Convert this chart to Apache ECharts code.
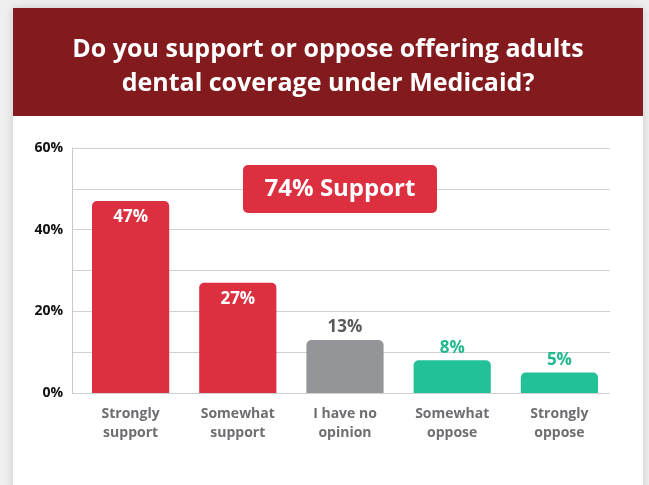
<!DOCTYPE html>
<html>
<head>
<meta charset="utf-8">
<script src="https://cdn.jsdelivr.net/npm/echarts@6/dist/echarts.min.js"></script>
<style>
  html, body { margin: 0; padding: 0; width: 649px; height: 485px; overflow: hidden; background: #efefef; }
  #card { position: absolute; left: 13px; top: 8px; width: 630px; height: 490px; background: #ffffff;
          box-shadow: 0 0 9px rgba(0,0,0,0.16); }
  #header { position: absolute; left: 0; top: 0; width: 630px; height: 108px; background: #821a1e; }
  #chart { position: absolute; left: 13px; top: 8px; width: 630px; height: 477px; }
</style>
</head>
<body>
<div id="card"><div id="header"></div></div>
<div id="chart"></div>
<script>
// ---- data ----
const titleText = 'Do you support or oppose offering adults\ndental coverage under Medicaid?';
const categories = ['Strongly\nsupport', 'Somewhat\nsupport', 'I have no\nopinion', 'Somewhat\noppose', 'Strongly\noppose'];
const values = [47, 27, 13, 8, 5];
const calloutText = '74% Support';
const yTicks = [0, 20, 40, 60];

// ---- styles ----
const barColors = ['#dc3040', '#dc3040', '#939598', '#22c197', '#22c197'];
const labelColors = ['#ffffff', '#ffffff', '#58595b', '#22b890', '#22b890'];
const labelInside = [true, true, false, false, false];
const FONT = 'Open Sans';

const chart = echarts.init(document.getElementById('chart'));

const seriesData = values.map((v, i) => ({
  value: v,
  itemStyle: { color: barColors[i], borderRadius: [5, 5, 0, 0] },
  label: {
    show: true,
    position: labelInside[i] ? 'insideTop' : 'top',
    distance: labelInside[i] ? 8 : 4,
    color: labelColors[i],
    fontSize: 17,
    fontWeight: 'bold',
    fontFamily: FONT,
    formatter: '{c}%'
  }
}));

const option = {
  animation: false,
  title: {
    text: titleText,
    left: 'center',
    top: 20,
    textStyle: { color: '#ffffff', fontSize: 25, fontWeight: 'bold', fontFamily: FONT, lineHeight: 34 }
  },
  grid: [
    { left: 64, right: 30, top: 140, bottom: 92, containLabel: false },
    { left: 59, right: 33, top: 140, bottom: 92, containLabel: false }
  ],
  xAxis: [
    {
      type: 'category', gridIndex: 0, data: categories,
      axisLine: { show: false }, axisTick: { show: false },
      axisLabel: { color: '#6d6e71', fontSize: 14, fontWeight: 'bold', fontFamily: FONT, lineHeight: 19, margin: 12, interval: 0 }
    },
    {
      type: 'category', gridIndex: 1, data: categories, show: false
    }
  ],
  yAxis: [
    { type: 'value', gridIndex: 0, min: 0, max: 60, interval: 10, show: false, splitLine: { show: false } },
    {
      type: 'value', gridIndex: 1, min: 0, max: 60, interval: 10,
      axisLine: { show: true, lineStyle: { color: '#c8c8c8', width: 1 } },
      axisTick: { show: false },
      splitLine: { show: true, lineStyle: { color: '#d0d0d0', width: 1 } },
      axisLabel: {
        color: '#111111', fontSize: 14, fontWeight: 'bold', fontFamily: FONT, margin: 9,
        formatter: v => (yTicks.indexOf(v) >= 0 ? v + '%' : '')
      }
    }
  ],
  series: [
    {
      type: 'bar', xAxisIndex: 0, yAxisIndex: 0, data: seriesData,
      barWidth: '72%'
    }
  ],
  graphic: [
    {
      type: 'group', left: 230, top: 157, z: 100,
      children: [
        { type: 'rect', z: 100, shape: { x: 0, y: 0, width: 194, height: 48, r: 5 }, style: { fill: '#dc3040' } },
        { type: 'text', z: 101, x: 97, y: 24, style: { text: calloutText, fill: '#ffffff', fontSize: 24, fontWeight: 'bold', fontFamily: FONT, align: 'center', verticalAlign: 'middle' } }
      ]
    }
  ]
};
chart.setOption(option);
</script>
</body>
</html>
